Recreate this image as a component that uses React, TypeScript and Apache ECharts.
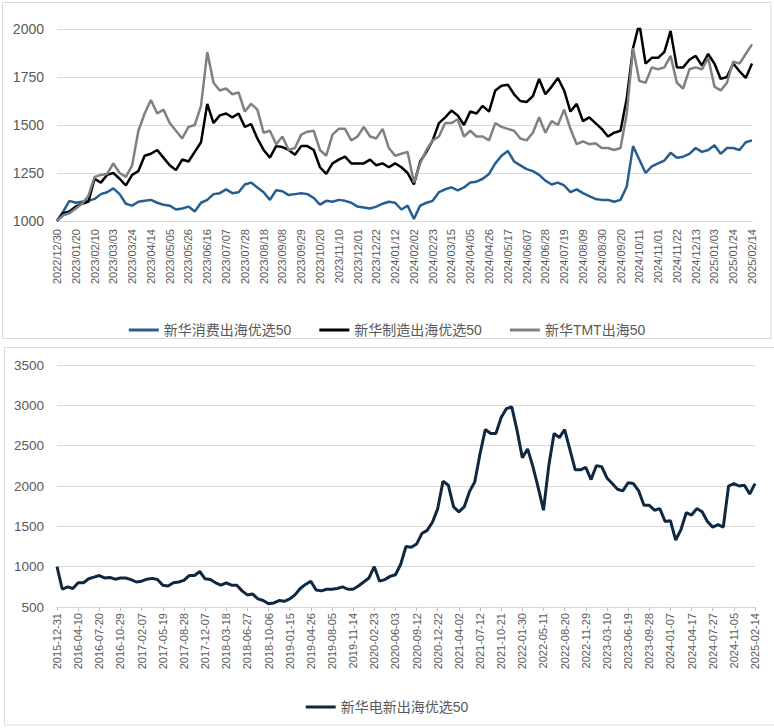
import React, { useEffect, useRef } from "react";
import * as echarts from "echarts";

// ---- Top chart: weekly values, 2022/12/30 – 2025/02/14 ----
const consumerValues = [
  1000, 1050, 1105, 1095, 1100, 1105, 1115, 1140, 1150, 1170,
  1140, 1090, 1080, 1100, 1105, 1110, 1095, 1085, 1080, 1060,
  1065, 1075, 1050, 1095, 1110, 1140, 1145, 1165, 1145, 1150,
  1190, 1200, 1175, 1150, 1110, 1160, 1155, 1135, 1140, 1145,
  1140, 1120, 1085, 1105, 1100, 1110, 1105, 1095, 1075, 1070,
  1065, 1075, 1090, 1100, 1095,
  1060, 1080, 1010, 1080, 1095, 1105, 1150, 1165, 1175, 1160,
  1175, 1200, 1205, 1220, 1245, 1300, 1340, 1365, 1310, 1290,
  1270, 1260, 1240, 1210, 1190, 1200, 1185, 1150, 1165, 1145,
  1130, 1115, 1110, 1110, 1100, 1110, 1180, 1390, 1320, 1250,
  1285, 1300, 1315, 1355, 1330, 1335, 1350, 1380, 1360, 1370,
  1395, 1350, 1380, 1380, 1370, 1410, 1420,
];

const manufacturingValues = [
  1000, 1040, 1050, 1075, 1090, 1100, 1220, 1200, 1240, 1250,
  1220, 1185, 1240, 1260, 1340, 1350, 1370, 1330, 1290, 1265,
  1320, 1310, 1360, 1410, 1610, 1510, 1550, 1560, 1540, 1560,
  1490, 1505, 1430, 1370, 1330, 1390, 1385, 1370, 1345, 1390,
  1390, 1370, 1280, 1245, 1300, 1320, 1335, 1300, 1300, 1300,
  1320, 1290, 1300, 1280, 1300,
  1280, 1250, 1190, 1310, 1360, 1420, 1510, 1540, 1575, 1550,
  1500, 1570, 1560, 1600, 1570, 1680, 1705, 1710, 1660, 1625,
  1620, 1650, 1740, 1660, 1700, 1745, 1680, 1570, 1610, 1520,
  1540, 1510, 1480, 1440, 1460, 1470, 1640, 1900, 2030, 1820,
  1850, 1850, 1880, 1990, 1800, 1800, 1840, 1860, 1810, 1870,
  1820, 1740, 1750, 1820, 1780, 1745, 1820,
];

const tmtValues = [
  1000, 1030, 1040, 1065, 1090, 1130, 1230, 1240, 1245, 1300,
  1250, 1230, 1290, 1470, 1560, 1630, 1560, 1580, 1510, 1470,
  1430, 1490, 1500, 1600, 1880, 1720, 1680, 1690, 1660, 1670,
  1570, 1610, 1580, 1460, 1470, 1400, 1440, 1370, 1380, 1450,
  1465, 1470, 1370, 1340, 1450, 1480, 1480, 1420, 1440, 1490,
  1440, 1430, 1480, 1380, 1340,
  1350, 1360, 1200, 1300, 1370, 1420, 1440, 1510, 1510, 1530,
  1440, 1470, 1440, 1440, 1420, 1510, 1490, 1480, 1470, 1430,
  1420, 1460, 1540, 1460, 1520, 1500, 1580, 1480, 1400, 1415,
  1400, 1405, 1380, 1380, 1370, 1380, 1560, 1900, 1730, 1720,
  1800, 1790, 1800, 1860, 1720, 1690, 1790, 1800, 1790, 1850,
  1700, 1680, 1720, 1830, 1820, 1870, 1920,
];

// ---- Bottom chart: values sampled every quarter label step (101/4 days) from 2015-12-31 ----
const evValues = [
  1000, 720, 750, 730, 800, 800, 850, 870, 890, 860,
  865, 845, 860, 860, 840, 810, 820, 845, 855, 840,
  770, 760, 800, 810, 830, 890, 890, 940, 850, 840,
  800, 770, 800, 770, 770, 700, 650, 660, 600, 580,
  540, 550, 580, 570, 600, 650, 730, 780, 820, 710,
  700, 720, 720, 730, 750, 720, 720, 760, 810, 860,
  1000, 820, 840, 880, 900,
  1030, 1250, 1240, 1280, 1410, 1450, 1550, 1720, 2060, 2010,
  1740, 1680, 1740, 1930, 2050, 2400, 2700, 2650, 2650, 2850,
  2960, 2980, 2690, 2350, 2460, 2240, 1980, 1700, 2250, 2650,
  2600, 2700, 2450, 2200, 2200, 2230, 2080, 2250, 2240, 2100,
  2030, 1960, 1940, 2040, 2030, 1940, 1760, 1760, 1700, 1720,
  1560, 1570, 1330, 1460, 1670, 1640, 1720, 1680, 1560, 1490,
  1520, 1490, 2000, 2030, 2000, 2010, 1900, 2030,
];

const topSeriesNames = ["新华消费出海优选50", "新华制造出海优选50", "新华TMT出海50"];
const bottomSeriesName = "新华电新出海优选50";

const DAY = 86400000;
const topStart = Date.UTC(2022, 11, 30);
const bottomStart = Date.UTC(2015, 11, 31);
const bottomSpanDays = 3333;
const bottomLabelStepDays = 101;

const pad = (n: number) => String(n).padStart(2, "0");
const fmtDate = (t: number, sep: string) => {
  const d = new Date(t);
  return d.getUTCFullYear() + sep + pad(d.getUTCMonth() + 1) + sep + pad(d.getUTCDate());
};

const topDates = consumerValues.map((_, i) => fmtDate(topStart + i * 7 * DAY, "/"));
const evData = evValues.map((v, i) => [(i * bottomLabelStepDays) / 4, v]);

const TEXT = "#595959";
const GRID = "#D9D9D9";
const FONT = "'Liberation Sans', 'Noto Sans CJK SC', sans-serif";

export default function App() {
  const ref = useRef<HTMLDivElement>(null);

  useEffect(() => {
    if (!ref.current) return;
    const chart = echarts.init(ref.current, undefined, { renderer: "svg" });
    chart.setOption({
      animation: false,
      backgroundColor: "#ffffff",
      textStyle: { fontFamily: FONT },
      graphic: [
        {
          type: "rect",
          shape: { x: 2.5, y: 2.5, width: 768.5, height: 336 },
          style: { fill: "none", stroke: GRID, lineWidth: 1 },
          silent: true,
        },
        {
          type: "rect",
          shape: { x: 4.5, y: 347.5, width: 775, height: 377.5 },
          style: { fill: "none", stroke: GRID, lineWidth: 1 },
          silent: true,
        },
      ],
      legend: [
        {
          data: topSeriesNames,
          left: "center",
          top: 318,
          icon: "rect",
          itemWidth: 30,
          itemHeight: 3,
          itemGap: 28,
          textStyle: { color: TEXT, fontSize: 14, fontFamily: FONT },
        },
        {
          data: [bottomSeriesName],
          left: "center",
          top: 695,
          icon: "rect",
          itemWidth: 30,
          itemHeight: 3,
          textStyle: { color: TEXT, fontSize: 14, fontFamily: FONT },
        },
      ],
      grid: [
        { left: 57, top: 29, width: 695, height: 192 },
        { left: 57, top: 365, width: 698, height: 242 },
      ],
      xAxis: [
        {
          type: "category",
          gridIndex: 0,
          data: topDates,
          boundaryGap: false,
          axisLine: { lineStyle: { color: GRID } },
          axisTick: { show: false },
          axisLabel: {
            interval: 2,
            rotate: 90,
            color: TEXT,
            fontSize: 11,
            margin: 8,
            fontFamily: FONT,
          },
          splitLine: { show: false },
        },
        {
          type: "value",
          gridIndex: 1,
          min: 0,
          max: bottomSpanDays,
          interval: bottomLabelStepDays,
          axisLine: { show: true, lineStyle: { color: GRID } },
          axisTick: { show: true, length: 4, lineStyle: { color: "#BFBFBF" } },
          axisLabel: {
            rotate: 90,
            color: TEXT,
            fontSize: 11,
            margin: 6,
            fontFamily: FONT,
            formatter: (v: number) => fmtDate(bottomStart + Math.round(v) * DAY, "-"),
          },
          splitLine: { show: false },
        },
      ],
      yAxis: [
        {
          type: "value",
          gridIndex: 0,
          min: 1000,
          max: 2000,
          interval: 250,
          axisLine: { show: false },
          axisTick: { show: false },
          axisLabel: {
            color: TEXT,
            fontSize: 14,
            margin: 13,
            fontFamily: FONT,
            formatter: (v: number) => String(v),
          },
          splitLine: { lineStyle: { color: GRID, width: 1 } },
        },
        {
          type: "value",
          gridIndex: 1,
          min: 500,
          max: 3500,
          interval: 500,
          axisLine: { show: false },
          axisTick: { show: false },
          axisLabel: {
            color: TEXT,
            fontSize: 13.5,
            margin: 13,
            fontFamily: FONT,
            formatter: (v: number) => String(v),
          },
          splitLine: { lineStyle: { color: GRID, width: 1 } },
        },
      ],
      series: [
        {
          name: topSeriesNames[0],
          type: "line",
          xAxisIndex: 0,
          yAxisIndex: 0,
          data: consumerValues,
          symbol: "none",
          color: "#255E91",
          lineStyle: { width: 2.5, color: "#255E91" },
        },
        {
          name: topSeriesNames[1],
          type: "line",
          xAxisIndex: 0,
          yAxisIndex: 0,
          data: manufacturingValues,
          symbol: "none",
          color: "#000000",
          lineStyle: { width: 2.5, color: "#000000" },
        },
        {
          name: topSeriesNames[2],
          type: "line",
          xAxisIndex: 0,
          yAxisIndex: 0,
          data: tmtValues,
          symbol: "none",
          color: "#808080",
          lineStyle: { width: 2.5, color: "#808080" },
        },
        {
          name: bottomSeriesName,
          type: "line",
          xAxisIndex: 1,
          yAxisIndex: 1,
          data: evData,
          symbol: "none",
          color: "#0E2841",
          lineStyle: { width: 3, color: "#0E2841" },
        },
      ],
    });
    return () => chart.dispose();
  }, []);

  return (
    <div
      ref={ref}
      style={{ position: "absolute", left: 0, top: 0, width: 774, height: 728, background: "#fff" }}
    />
  );
}
